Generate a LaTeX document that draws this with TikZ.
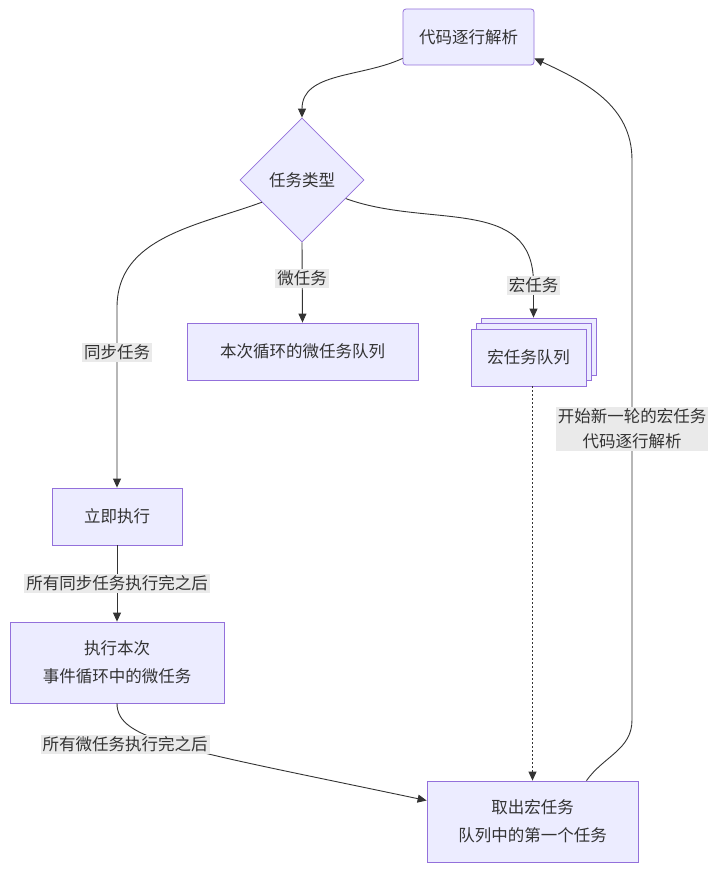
\documentclass[tikz,border=0pt]{standalone}
\usepackage{fontspec}
\newfontfamily\cjk{Noto Sans CJK SC}
\usetikzlibrary{arrows.meta,shapes.geometric,shadows}
\definecolor{mmfill}{HTML}{ECECFF}
\definecolor{mmborder}{HTML}{9370DB}
\definecolor{mmline}{HTML}{333333}
\definecolor{mmlabel}{HTML}{EAEAEA}
\tikzset{
  box/.style={draw=mmborder,fill=mmfill,line width=0.8pt,text=mmline,align=center,inner sep=0pt,
    font=\cjk\fontsize{16.5}{28}\selectfont},
  lbl/.style={fill=mmlabel,text=mmline,align=center,inner sep=2pt,
    font=\cjk\fontsize{16.5}{25}\selectfont},
  arr/.style={draw=mmline,line width=0.9pt,-{Triangle[length=9pt,width=8pt]}},
}
\begin{document}
\begin{tikzpicture}[x=1pt,y=1pt]
\useasboundingbox (0,0) rectangle (720,-872);
%\draw[step=50pt,gray,very thin] (0,-872) grid (720,0); %background grid

% nodes
\node[box,rounded corners=3pt,minimum width=131pt,minimum height=56pt] (parse) at (468.5,-37) {代码逐行解析};
\node[box,diamond,minimum width=124pt,minimum height=124pt] (type) at (302,-180) {任务类型};
\node[box,minimum width=231pt,minimum height=57pt] (micro) at (302.5,-351.5) {本次循环的微任务队列};
\node[box,minimum width=115pt,minimum height=57pt,
  double copy shadow={shadow xshift=5pt,shadow yshift=5.5pt,fill=mmfill,draw=mmborder,line width=0.8pt}]
  (macro) at (528.5,-357.5) {宏任务队列};
\node[box,minimum width=130pt,minimum height=57pt] (now) at (117,-516.5) {立即执行};
\node[box,minimum width=214pt,minimum height=81pt] (runmicro) at (117,-662.5) {执行本次\\事件循环中的微任务};
\node[box,minimum width=211pt,minimum height=81pt] (take) at (532.5,-821.5) {取出宏任务\\队列中的第一个任务};

% connectors
\draw[arr] ([yshift=7pt]parse.south west) to[out=205,in=90] (type.north);
\draw[arr] (type.209) to[out=200,in=90] ([yshift=180pt]now.north) -- node[lbl,pos=0.25]{同步任务} (now.north);
\draw[arr] (type.south) -- node[lbl,pos=0.45]{微任务} (micro.north);
\draw[arr] (type.-23) to[out=-20,in=90,looseness=1.1] ([xshift=5pt,yshift=45pt]macro.north)
  -- node[lbl,pos=0.05]{宏任务} ([xshift=5pt,yshift=11pt]macro.north);
\draw[arr,dash pattern=on 2pt off 2pt] (macro.south -| take.north) -- (take.north);
\draw[arr] (now.south) -- node[lbl]{所有同步任务执行完之后} (runmicro.north);
\draw[arr] (runmicro.south) .. controls +(0,-37) and +(-247,52) .. ([yshift=21pt]take.west);
\node[lbl] (lbldone) at ([xshift=8pt,yshift=-41pt]runmicro.south) {所有微任务执行完之后};
\draw[arr] ([xshift=54pt]take.north) to[out=55,in=-90] (632,-720) -- node[lbl,pos=0.52]{开始新一轮的宏任务\\代码逐行解析} (632,-160)
  to[out=90,in=-25] ([yshift=7pt]parse.south east);
\end{tikzpicture}
\end{document}
